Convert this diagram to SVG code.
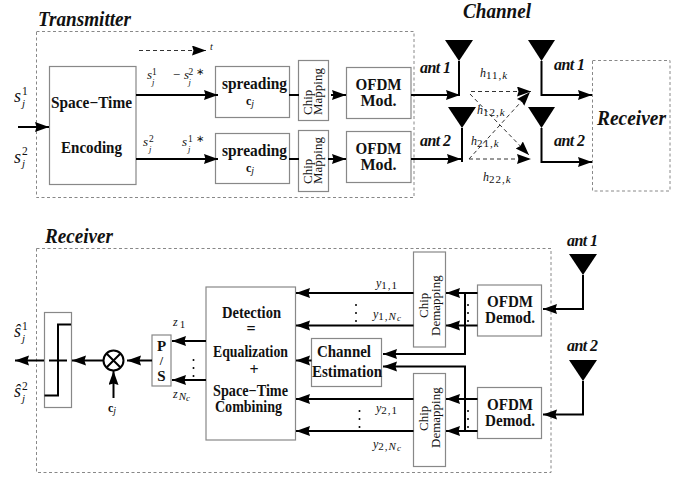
<svg xmlns="http://www.w3.org/2000/svg" width="683" height="477" viewBox="0 0 683 477">
<style>
text{font-family:"Liberation Serif","Times New Roman",serif;fill:#111}
.b{fill:#fff;stroke:#888;stroke-width:1.2}
.d{fill:none;stroke:#888;stroke-width:1;stroke-dasharray:3 2.5}
.n{font-weight:bold;font-size:16px;text-anchor:middle}
.h{font-weight:bold;font-style:italic;font-size:20px}
.a{font-weight:bold;font-style:italic;font-size:16px}
.c{font-size:13px}
.m{font-style:italic;font-size:18px}
.s{font-style:italic;font-size:11px}
.u{font-size:11.5px}
.w{font-style:italic;font-size:13px}
.k{font-size:11px}
.y{font-size:12px}
.l{fill:none;stroke:#000;stroke-width:2}
.t{fill:none;stroke:#000;stroke-width:2;marker-end:url(#ah)}
.q{fill:none;stroke:#333;stroke-width:1;stroke-dasharray:4 3;marker-end:url(#ah)}
.p{fill:#000}
</style>
<defs>
<marker id="ah" markerUnits="userSpaceOnUse" markerWidth="15" markerHeight="11" refX="14" refY="5" orient="auto"><path d="M0,0 L14,5 L0,10 L1.5,5 Z" fill="#000"/></marker>
</defs>

<g id="transmitter-frame"><rect class="d" x="36.5" y="31.5" width="377.5" height="166"/><text class="h" x="38" y="25.5" textLength="93" lengthAdjust="spacingAndGlyphs">Transmitter</text></g>
<g id="channel-title"><text class="h" x="463" y="18" textLength="68" lengthAdjust="spacingAndGlyphs">Channel</text></g>
<g id="space-time"><rect class="b" x="49.5" y="66.5" width="86.5" height="118"/><text class="n" x="91.5" y="108" textLength="81" lengthAdjust="spacingAndGlyphs">Space−Time</text><text class="n" x="91.5" y="152.5" textLength="61" lengthAdjust="spacingAndGlyphs">Encoding</text></g>
<g id="spreading-1"><rect class="b" x="215.5" y="66.5" width="74" height="51"/><text class="n" x="254.5" y="89" textLength="65" lengthAdjust="spacingAndGlyphs">spreading</text><text x="246" y="105" font-size="12" font-weight="bold">c<tspan font-style="italic" font-weight="normal" font-size="10" dy="1.5">j</tspan></text></g>
<g id="spreading-2"><rect class="b" x="215.5" y="133.5" width="74" height="50"/><text class="n" x="254.5" y="156" textLength="65" lengthAdjust="spacingAndGlyphs">spreading</text><text x="246" y="172" font-size="12" font-weight="bold">c<tspan font-style="italic" font-weight="normal" font-size="10" dy="1.5">j</tspan></text></g>
<g id="chip-map-1"><rect class="b" x="298.5" y="60.5" width="30" height="60"/><text class="c" transform="translate(311.5,115) rotate(-90)">Chip<tspan x="0" y="10.5">Mapping</tspan></text></g>
<g id="chip-map-2"><rect class="b" x="298.5" y="130.5" width="30" height="61"/><text class="c" transform="translate(311.5,184) rotate(-90)">Chip<tspan x="0" y="10.5">Mapping</tspan></text></g>
<g id="ofdm-mod-1"><rect class="b" x="346.5" y="67.5" width="64.5" height="51"/><text class="n" x="378.5" y="90" textLength="46" lengthAdjust="spacingAndGlyphs">OFDM</text><text class="n" x="378.5" y="106">Mod.</text></g>
<g id="ofdm-mod-2"><rect class="b" x="346.5" y="131.5" width="64.5" height="51"/><text class="n" x="378.5" y="154" textLength="46" lengthAdjust="spacingAndGlyphs">OFDM</text><text class="n" x="378.5" y="170">Mod.</text></g>
<g id="tx-ant-1"><path class="p" d="M445,40H473L459,61Z"/><text class="a" x="420" y="73" textLength="31">ant 1</text></g>
<g id="tx-ant-2"><path class="p" d="M448,107H476L462,128Z"/><text class="a" x="420" y="146" textLength="31">ant 2</text></g>
<g id="rx-ant-1"><path class="p" d="M528,40H555L541.5,61Z"/><text class="a" x="554" y="70" textLength="31">ant 1</text></g>
<g id="rx-ant-2"><path class="p" d="M528,107H555L541.5,128Z"/><text class="a" x="554" y="146" textLength="31">ant 2</text></g>
<g id="receiver-box"><rect class="d" x="592.5" y="60.5" width="77.5" height="130.5"/><text class="h" x="597" y="125" textLength="69" lengthAdjust="spacingAndGlyphs">Receiver</text></g>

<g id="receiver-frame"><rect class="d" x="36.5" y="248.5" width="514.5" height="224"/><text class="h" x="45" y="243" textLength="68" lengthAdjust="spacingAndGlyphs">Receiver</text></g>
<g id="decision"><rect class="b" x="44.5" y="312.5" width="27" height="95"/><path class="l" d="M49,360.5H67M44.5,395.5H58V324.5H71"/></g>
<g id="multiplier"><circle cx="113.5" cy="360.5" r="10" fill="#fff" stroke="#000" stroke-width="2"/><path class="l" d="M106.5,353.5L120.5,367.5M120.5,353.5L106.5,367.5"/></g>
<g id="ps"><rect class="b" x="152" y="335" width="19" height="51"/><text class="n" style="font-size:15px" x="161.5" y="351">P</text><text class="n" style="font-size:12px" x="161.5" y="365">/</text><text class="n" style="font-size:15px" x="161.5" y="380.5">S</text></g>
<g id="detection"><rect class="b" x="206" y="287" width="89.5" height="153"/><text class="n" x="251.5" y="318" textLength="59" lengthAdjust="spacingAndGlyphs">Detection</text><text class="n" x="251" y="334">=</text><text class="n" x="250.5" y="357" textLength="75" lengthAdjust="spacingAndGlyphs">Equalization</text><text class="n" x="254" y="375">+</text><text class="n" x="250.5" y="396" textLength="75" lengthAdjust="spacingAndGlyphs">Space−Time</text><text class="n" x="248.5" y="412" textLength="67" lengthAdjust="spacingAndGlyphs">Combining</text></g>
<g id="channel-est"><rect class="b" x="311.5" y="338.5" width="70" height="48"/><text class="n" x="344" y="357" textLength="54" lengthAdjust="spacingAndGlyphs">Channel</text><text class="n" x="347" y="377" textLength="70" lengthAdjust="spacingAndGlyphs">Estimation</text></g>
<g id="chip-demap-1"><rect class="b" x="413.5" y="252" width="32" height="95"/><text class="c" transform="translate(428,318) rotate(-90)">Chip<tspan x="-18" y="12">Demapping</tspan></text></g>
<g id="chip-demap-2"><rect class="b" x="413.5" y="373.5" width="32" height="93"/><text class="c" transform="translate(428,431) rotate(-90)">Chip<tspan x="-17" y="12">Demapping</tspan></text></g>
<g id="ofdm-demod-1"><rect class="b" x="477.5" y="285" width="64" height="51"/><text class="n" x="510" y="307" textLength="46" lengthAdjust="spacingAndGlyphs">OFDM</text><text class="n" x="510" y="323" textLength="50" lengthAdjust="spacingAndGlyphs">Demod.</text></g>
<g id="ofdm-demod-2"><rect class="b" x="477.5" y="387.5" width="64" height="51"/><text class="n" x="510" y="409.5" textLength="46" lengthAdjust="spacingAndGlyphs">OFDM</text><text class="n" x="510" y="426" textLength="50" lengthAdjust="spacingAndGlyphs">Demod.</text></g>
<g id="rx2-ant-1"><path class="p" d="M569,254H597L583,275Z"/><text class="a" x="567" y="246" textLength="31">ant 1</text></g>
<g id="rx2-ant-2"><path class="p" d="M569,360H597L583,381Z"/><text class="a" x="567" y="351" textLength="31">ant 2</text></g>

<g id="connectors">
<path class="t" d="M18,127H49"/>
<path class="t" d="M136,95H218"/>
<path class="t" d="M136,159H218"/>
<path class="l" d="M289,95H299M289,159H299"/>
<path class="t" d="M331,95H346"/>
<path class="t" d="M328,159H346"/>
<path class="t" d="M411,95H460"/>
<path class="t" d="M411,159H461"/>
<path class="l" d="M459,61V95M462,128V162"/>
<path class="q" d="M471,91.5H531"/>
<path class="q" d="M470,94L529,155"/>
<path class="q" d="M469,159L530,92"/>
<path class="q" d="M469,159H531"/>
<path class="t" d="M541.5,61V95H592"/>
<path class="t" d="M541.5,128V162H592"/>
<path class="q" d="M139,50.5H206"/>
<path class="t" d="M583,275V309H543"/>
<path class="t" d="M583,381V414.5H543"/>
<path class="t" d="M477.5,293H446"/>
<path class="t" d="M477.5,325.5H446"/>
<path class="t" d="M477.5,399H446"/>
<path class="t" d="M477.5,431H446"/>
<path class="t" d="M465,293V354H383"/>
<path class="t" d="M465,431V366.5H383"/>
<path class="t" d="M413.5,293H296"/>
<path class="t" d="M413.5,325.5H296"/>
<path class="t" d="M413.5,399H296"/>
<path class="t" d="M413.5,431H296"/>
<path class="t" d="M311.5,360.5H296"/>
<path class="t" d="M206,341H172"/>
<path class="t" d="M206,380H172"/>
<path class="t" d="M152,360.5H127"/>
<path class="t" d="M103,360.5H72"/>
<path class="t" d="M44,360.5H15"/>
<path class="t" d="M113.5,398V371"/>
</g>

<g id="labels">
<text class="m" x="14" y="102">s<tspan class="u" font-style="normal" x="22" y="95">1</tspan><tspan class="s" x="22" y="107">j</tspan></text>
<text class="m" x="14" y="163">s<tspan class="u" font-style="normal" x="22" y="155">2</tspan><tspan class="s" x="22" y="167">j</tspan></text>
<text class="w" x="147" y="79">s<tspan font-style="normal" font-size="9.5" x="152" y="74.5">1</tspan><tspan font-size="8.5" x="152" y="84.5">j</tspan></text>
<text class="w" x="172" y="79">− s<tspan font-style="normal" font-size="9.5" x="188.5" y="74.5">2</tspan><tspan font-size="8.5" x="188.5" y="84.5">j</tspan><tspan font-style="normal" font-size="10" x="196" y="75">∗</tspan></text>
<text class="w" x="143" y="146">s<tspan font-style="normal" font-size="9.5" x="149" y="141.5">2</tspan><tspan font-size="8.5" x="149" y="151.5">j</tspan></text>
<text class="w" x="182" y="146">s<tspan font-style="normal" font-size="9.5" x="188" y="141.5">1</tspan><tspan font-size="8.5" x="188" y="151.5">j</tspan><tspan font-style="normal" font-size="10" x="195.5" y="142">∗</tspan></text>
<text x="210" y="50" font-size="10" font-style="italic">t</text>
<text class="y" x="480" y="77"><tspan font-style="italic">h</tspan><tspan class="k" dy="2" letter-spacing="1">11,<tspan font-style="italic">k</tspan></tspan></text>
<text class="y" x="477" y="114"><tspan font-style="italic">h</tspan><tspan class="k" dy="2" letter-spacing="1">12,<tspan font-style="italic">k</tspan></tspan></text>
<text class="y" x="471" y="145"><tspan font-style="italic">h</tspan><tspan class="k" dy="2" letter-spacing="1">21,<tspan font-style="italic">k</tspan></tspan></text>
<text class="y" x="483" y="181"><tspan font-style="italic">h</tspan><tspan class="k" dy="2" letter-spacing="1">22,<tspan font-style="italic">k</tspan></tspan></text>
<text class="m" x="14" y="337">ŝ<tspan class="u" font-style="normal" x="22" y="330">1</tspan><tspan class="s" x="22" y="342">j</tspan></text>
<text class="m" x="14" y="397">ŝ<tspan class="u" font-style="normal" x="22" y="390">2</tspan><tspan class="s" x="22" y="402">j</tspan></text>
<text class="y" x="173" y="326" font-style="italic">z<tspan class="k" font-style="normal" dy="2" dx="2">1</tspan></text>
<text class="y" x="173" y="398" font-style="italic">z<tspan class="k" dy="2" dx="1">N<tspan font-size="9" dy="1">c</tspan></tspan></text>
<text x="108" y="412" font-size="12" font-weight="bold">c<tspan font-style="italic" font-weight="normal" font-size="10" dy="1.5">j</tspan></text>
<text class="y" x="376" y="287" font-style="italic">y<tspan class="k" font-style="normal" dy="2" letter-spacing="1">1,1</tspan></text>
<text class="y" x="373" y="318" font-style="italic">y<tspan class="k" font-style="normal" dy="2" letter-spacing="1">1,<tspan font-style="italic">N<tspan font-size="9" dy="1">c</tspan></tspan></tspan></text>
<text class="y" x="376" y="412" font-style="italic">y<tspan class="k" font-style="normal" dy="2" letter-spacing="1">2,1</tspan></text>
<text class="y" x="373" y="448" font-style="italic">y<tspan class="k" font-style="normal" dy="2" letter-spacing="1">2,<tspan font-style="italic">N<tspan font-size="9" dy="1">c</tspan></tspan></tspan></text>
</g>

<g id="dots" fill="#000">
<circle cx="193.5" cy="360" r="1"/><circle cx="193.5" cy="368" r="1"/><circle cx="193.5" cy="376" r="1"/>
<circle cx="356" cy="305" r="1"/><circle cx="356" cy="313" r="1"/><circle cx="356" cy="321" r="1"/>
<circle cx="359.5" cy="411" r="1"/><circle cx="359.5" cy="419" r="1"/><circle cx="359.5" cy="427" r="1"/>
<circle cx="468" cy="305" r="1"/><circle cx="468" cy="313" r="1"/><circle cx="468" cy="321" r="1"/>
<circle cx="468" cy="411" r="1"/><circle cx="468" cy="419" r="1"/><circle cx="468" cy="427" r="1"/>
</g>
</svg>
